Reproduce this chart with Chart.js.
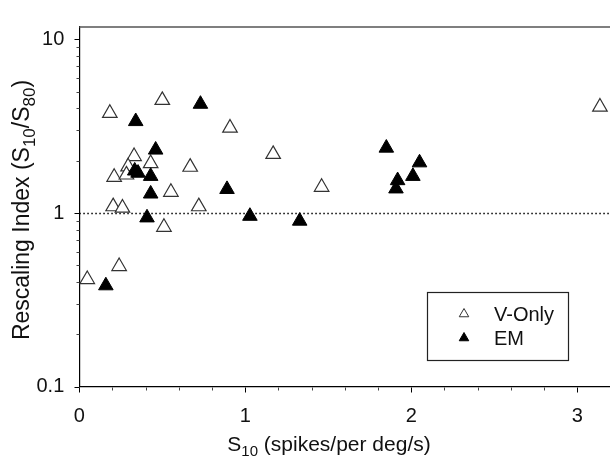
<!DOCTYPE html>
<html>
<head>
<meta charset="utf-8">
<script src="https://cdn.jsdelivr.net/npm/chart.js@4"></script>
<style>
  html, body { margin: 0; padding: 0; background: #fff; overflow: hidden; }
  #outer { width: 610px; height: 459px; overflow: hidden; position: relative; }
  #wrap { width: 620px; height: 459px; position: absolute; left: 0; top: 0; }
</style>
</head>
<body>
<div id="outer"><div id="wrap"><canvas id="c"></canvas></div></div>
<script>
// ---- data ----
const seriesNames = ['V-Only', 'EM'];
const vOnlyX = [0.184, 0.500, 0.908, 1.168, 1.460, 0.668, 0.552, 0.720, 0.510, 3.137, 0.204, 0.260, 0.048, 0.240, 0.330, 0.430, 0.294, 0.210, 0.284];
const vOnlyY = [3.76, 4.46, 3.09, 2.18, 1.41, 1.84, 1.32, 1.09, 0.83, 4.08, 1.09, 1.07, 0.415, 0.493, 2.12, 1.93, 1.85, 1.61, 1.66];
const emX = [0.460, 0.334, 0.354, 0.430, 0.430, 0.340, 0.730, 0.408, 1.028, 1.328, 0.890, 0.160, 1.850, 2.050, 2.010, 1.918, 1.908];
const emY = [2.31, 1.75, 1.70, 1.63, 1.29, 3.37, 4.24, 0.94, 0.96, 0.90, 1.37, 0.382, 2.37, 1.95, 1.63, 1.54, 1.38];
const xTickValues = [0, 1, 2, 3];
const xTickLabels = ['0', '1', '2', '3'];
const xMinorTicks = [0.2, 0.4, 0.6, 0.8, 1.2, 1.4, 1.6, 1.8, 2.2, 2.4, 2.6, 2.8, 3.2];
const yTickValues = [0.1, 1, 10];
const yTickLabels = ['0.1', '1', '10'];
const yMinorTicks = [0.2, 0.3, 0.4, 0.5, 0.6, 0.7, 0.8, 0.9, 2, 3, 4, 5, 6, 7, 8, 9];
const referenceLevel = 1;
const xTitleParts = ['S', '10', ' (spikes/per deg/s)'];
const yTitleParts = ['Rescaling Index (S', '10', '/S', '80', ')'];

const FONT = '"Liberation Sans", Arial, sans-serif';

function toPoints(xs, ys) { return xs.map((x, i) => ({ x: x, y: ys[i] })); }

// draw text with subscripts: parts alternate normal/subscript
function drawSubText(ctx, parts, size, subSize) {
  let w = 0;
  parts.forEach((p, i) => {
    ctx.font = (i % 2 ? subSize : size) + 'px ' + FONT;
    w += ctx.measureText(p).width;
  });
  let x = -w / 2;
  parts.forEach((p, i) => {
    const sub = i % 2 === 1;
    ctx.font = (sub ? subSize : size) + 'px ' + FONT;
    ctx.fillText(p, x, sub ? size * 0.32 : 0);
    x += ctx.measureText(p).width;
  });
}

const decor = {
  id: 'decor',
  beforeDatasetsDraw(chart) {
    const ctx = chart.ctx, a = chart.chartArea;
    const xs = chart.scales.x, ys = chart.scales.y;
    ctx.save();
    // dotted reference line
    const yy = Math.round(ys.getPixelForValue(referenceLevel)) + 0.5;
    ctx.strokeStyle = '#000';
    ctx.lineWidth = 1.3;
    ctx.setLineDash([1.5, 2.5]);
    ctx.beginPath(); ctx.moveTo(a.left, yy); ctx.lineTo(a.right, yy); ctx.stroke();
    ctx.setLineDash([]);
    // top frame
    ctx.strokeStyle = '#555';
    ctx.lineWidth = 1.6;
    ctx.beginPath(); ctx.moveTo(a.left, a.top); ctx.lineTo(a.right + 10, a.top); ctx.stroke();
    // tick marks
    ctx.strokeStyle = '#000';
    ctx.lineWidth = 1;
    const xb = Math.round(a.bottom) + 0.5;
    xTickValues.forEach(v => { const p = Math.round(xs.getPixelForValue(v)) + 0.5; ctx.beginPath(); ctx.moveTo(p, xb); ctx.lineTo(p, xb + 5); ctx.stroke(); });
    ctx.strokeStyle = '#444';
    xMinorTicks.forEach(v => { const p = Math.round(xs.getPixelForValue(v)) + 0.5; ctx.beginPath(); ctx.moveTo(p, xb); ctx.lineTo(p, xb + 3); ctx.stroke(); });
    const yl = Math.round(a.left) + 0.5;
    ctx.strokeStyle = '#000';
    yTickValues.forEach(v => { const p = Math.round(ys.getPixelForValue(v)) + 0.5; ctx.beginPath(); ctx.moveTo(yl, p); ctx.lineTo(yl - 5, p); ctx.stroke(); });
    ctx.strokeStyle = '#444';
    yMinorTicks.forEach(v => { const p = Math.round(ys.getPixelForValue(v)) + 0.5; ctx.beginPath(); ctx.moveTo(yl, p); ctx.lineTo(yl - 3, p); ctx.stroke(); });
    ctx.restore();
  },
  afterDraw(chart) {
    const ctx = chart.ctx, a = chart.chartArea;
    ctx.save();
    ctx.fillStyle = '#111';
    ctx.textBaseline = 'middle';
    ctx.textAlign = 'left';
    // x title
    ctx.save();
    ctx.translate(329, 445);
    drawSubText(ctx, xTitleParts, 21, 15);
    ctx.restore();
    // y title
    ctx.save();
    ctx.translate(23, 210);
    ctx.rotate(-Math.PI / 2);
    drawSubText(ctx, yTitleParts, 23, 17);
    ctx.restore();
    // legend box
    ctx.strokeStyle = '#222';
    ctx.lineWidth = 1.2;
    ctx.strokeRect(427.5, 292.5, 141, 68);
    const ds = chart.data.datasets;
    const rows = [314, 338];
    ds.forEach((d, i) => {
      const cx = 464, cy = rows[i], r = 5.5;
      ctx.beginPath();
      for (let k = 0; k < 3; k++) {
        const ang = k * 2 * Math.PI / 3;
        const px = cx + Math.sin(ang) * r, py = cy - Math.cos(ang) * r;
        if (k === 0) ctx.moveTo(px, py); else ctx.lineTo(px, py);
      }
      ctx.closePath();
      ctx.fillStyle = d.backgroundColor;
      ctx.fill();
      ctx.strokeStyle = d.borderColor;
      ctx.lineWidth = 1;
      ctx.stroke();
      ctx.fillStyle = '#111';
      ctx.font = '20px ' + FONT;
      ctx.fillText(d.label, 494, cy + 1);
    });
    ctx.restore();
  }
};

new Chart(document.getElementById('c'), {
  type: 'scatter',
  data: {
    datasets: [
      { label: seriesNames[0], data: toPoints(vOnlyX, vOnlyY), pointStyle: 'triangle', pointRadius: 8.4, pointHoverRadius: 8.4,
        backgroundColor: '#ffffff', borderColor: '#333', borderWidth: 1.2, order: 1 },
      { label: seriesNames[1], data: toPoints(emX, emY), pointStyle: 'triangle', pointRadius: 8.4, pointHoverRadius: 8.4,
        backgroundColor: '#000000', borderColor: '#000000', borderWidth: 1, order: 0 }
    ]
  },
  options: {
    responsive: true,
    maintainAspectRatio: false,
    animation: false,
    devicePixelRatio: 1,
    layout: { padding: { left: 0, top: 13.3, right: 7.3, bottom: 0 } },
    plugins: { legend: { display: false }, tooltip: { enabled: false } },
    scales: {
      x: {
        type: 'linear', min: 0, max: 3.2,
        afterBuildTicks: s => { s.ticks = xTickValues.map(v => ({ value: v })); },
        afterFit: s => { s.height = 459 - 386.7; },
        ticks: { callback: (v) => xTickLabels[xTickValues.indexOf(v)], color: '#111', font: { family: FONT, size: 20 }, padding: 18, maxRotation: 0 },
        grid: { display: false, drawTicks: false },
        border: { display: true, color: '#000', width: 1.2 }
      },
      y: {
        type: 'logarithmic', min: 0.1, max: 11.78,
        afterBuildTicks: s => { s.ticks = yTickValues.map(v => ({ value: v })); },
        afterFit: s => { s.width = 79.3; },
        ticks: { callback: (v) => yTickLabels[yTickValues.indexOf(v)], color: '#111', font: { family: FONT, size: 20 }, padding: 15 },
        grid: { display: false, drawTicks: false },
        border: { display: true, color: '#000', width: 1.2 }
      }
    }
  },
  plugins: [decor]
});
</script>
</body>
</html>
